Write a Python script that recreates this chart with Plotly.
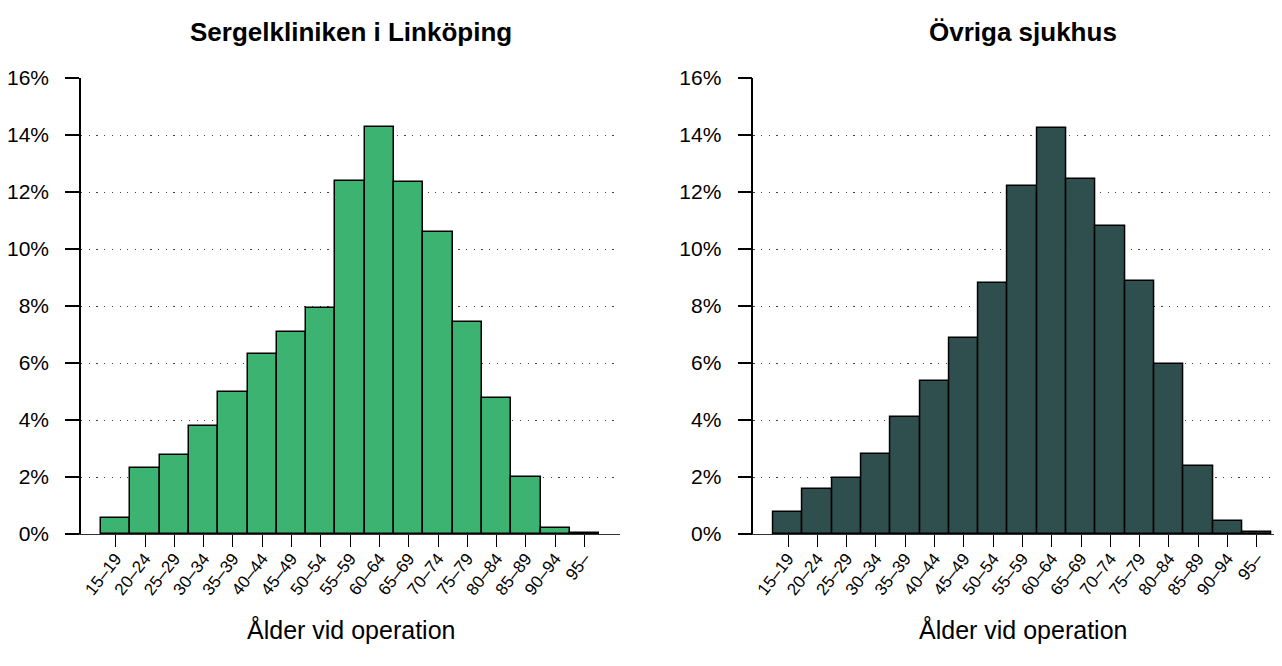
import plotly.graph_objects as go

categories = ["15–19", "20–24", "25–29", "30–34", "35–39", "40–44", "45–49", "50–54",
              "55–59", "60–64", "65–69", "70–74", "75–79", "80–84", "85–89", "90–94", "95–"]
sergel = [0.55, 2.30, 2.77, 3.78, 4.99, 6.32, 7.10, 7.94, 12.38, 14.28, 12.34, 10.59,
          7.44, 4.78, 2.01, 0.21, 0.02]
ovriga = [0.76, 1.59, 1.98, 2.79, 4.12, 5.37, 6.89, 8.82, 12.21, 14.26, 12.46, 10.81,
          8.89, 5.98, 2.39, 0.47, 0.06]
ytick_vals = [0, 2, 4, 6, 8, 10, 12, 14, 16]
ytick_text = [f"{v}%" for v in ytick_vals]
titles = ["Sergelkliniken i Linköping", "Övriga sjukhus"]
xlabel = "Ålder vid operation"

# page body has an 8px margin; work in reference pixel coords and shift
OFF = 8
W, H = 1282 - OFF, 666 - OFF
top, bottom = 77.7 - OFF, 534.3 - OFF
MT, MB = top, H - bottom
plot_h = bottom - top

def px_x(x):
    return (x - OFF) / W

def px_y(y):
    return (H - MB - (y - OFF)) / plot_h

unit = 29.3
left_dom = (81, 620)
right_dom = (753.3, 1282)
first_center_left = 115.7
first_center_right = 788.0

xs = list(range(len(categories)))

fig = go.Figure()
fig.add_trace(go.Bar(x=xs, y=sergel, width=1.0, marker=dict(color="#3CB371", line=dict(color="black", width=1.5)),
                     xaxis="x", yaxis="y", showlegend=False))
fig.add_trace(go.Bar(x=xs, y=ovriga, width=1.0, marker=dict(color="#2F4F4F", line=dict(color="black", width=1.5)),
                     xaxis="x2", yaxis="y2", showlegend=False))

def xrange(dom, c0):
    return [(dom[0] - c0) / unit, (dom[1] - c0) / unit]

font = "Liberation Sans, Arial, sans-serif"
xax = dict(tickmode="array", tickvals=xs, ticktext=categories, tickangle=-52,
           ticks="outside", ticklen=12, tickwidth=1.3, tickcolor="black",
           showline=True, linecolor="#333333", linewidth=1, ticklabelstandoff=-5,
           showgrid=False, zeroline=False, tickfont=dict(family=font, size=17, color="black"))
yax = dict(range=[0, 16], tickmode="array", tickvals=ytick_vals, ticktext=ytick_text,
           ticks="outside", ticklen=14, tickwidth=1.5, tickcolor="black",
           showline=True, linecolor="black", linewidth=1.5,
           showgrid=True, gridcolor="#444444", gridwidth=1, griddash="1.2px,6.5px",
           zeroline=False, ticklabelstandoff=12,
           tickfont=dict(family=font, size=21, color="black"))

fig.update_layout(
    width=W, height=H,
    margin=dict(l=0, r=0, t=MT, b=MB, pad=0),
    plot_bgcolor="white", paper_bgcolor="white",
    bargap=0,
    xaxis=dict(domain=[px_x(left_dom[0]), px_x(left_dom[1])], range=xrange(left_dom, first_center_left),
               anchor="y", **xax),
    yaxis=dict(domain=[0, 1], anchor="x", **yax),
    xaxis2=dict(domain=[px_x(right_dom[0]), 1.0],
                range=xrange(right_dom, first_center_right), anchor="y2", **xax),
    yaxis2=dict(domain=[0, 1], anchor="x2", **yax),
)

centers = [(81 + 620) / 2, (753.3 + 1292) / 2]
for cx, t in zip(centers, titles):
    fig.add_annotation(text=f"<b>{t}</b>", x=px_x(cx), y=px_y(32), xref="paper", yref="paper",
                       xanchor="center", yanchor="middle", showarrow=False,
                       font=dict(family=font, size=26, color="black"))
    fig.add_annotation(text=xlabel, x=px_x(cx), y=px_y(630), xref="paper", yref="paper",
                       xanchor="center", yanchor="middle", showarrow=False,
                       font=dict(family=font, size=25, color="black"))

fig.write_html("out.html")
